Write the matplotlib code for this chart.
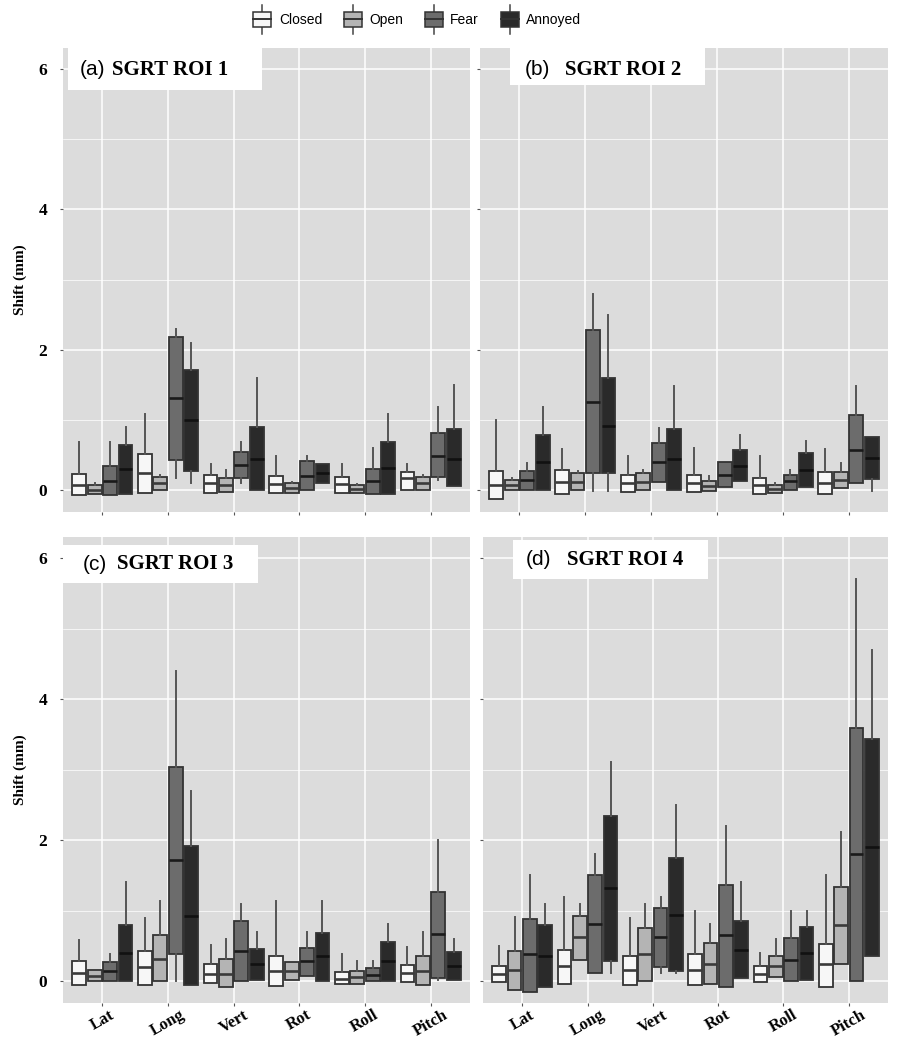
import numpy as np
import matplotlib
matplotlib.use('Agg')
import matplotlib.pyplot as plt
from matplotlib.patches import Rectangle, Patch
from matplotlib.lines import Line2D
from matplotlib.legend_handler import HandlerBase

motions = ['Lat', 'Long', 'Vert', 'Rot', 'Roll', 'Pitch']
groups = ['Closed', 'Open', 'Fear', 'Annoyed']
fills = ['#f7f7f7', '#b4b4b4', '#6c6c6c', '#2a2a2a']
med_colors = ['#3a3a3a', '#3a3a3a', '#1a1a1a', '#111111']
panel_tags = ['(a)', '(b)', '(c)', '(d)']
panel_names = ['SGRT ROI 1', 'SGRT ROI 2', 'SGRT ROI 3', 'SGRT ROI 4']

# rows: Closed, Open, Fear, Annoyed ; columns: Lat, Long, Vert, Rot, Roll, Pitch
# ROI 1
roi1_q1 = [[-0.07, -0.04, -0.04, -0.04, -0.04, 0.01],
           [-0.05, 0.01, -0.02, -0.04, -0.04, 0.01],
           [-0.07, 0.43, 0.17, 0.00, -0.06, 0.19],
           [-0.05, 0.27, 0.00, 0.10, -0.06, 0.06]]
roi1_med = [[0.08, 0.25, 0.10, 0.09, 0.09, 0.17],
            [0.01, 0.10, 0.07, 0.03, 0.02, 0.10],
            [0.13, 1.31, 0.36, 0.20, 0.13, 0.49],
            [0.30, 1.00, 0.45, 0.25, 0.32, 0.45]]
roi1_q3 = [[0.23, 0.52, 0.21, 0.20, 0.19, 0.26],
           [0.07, 0.19, 0.17, 0.10, 0.07, 0.19],
           [0.34, 2.18, 0.54, 0.41, 0.30, 0.82],
           [0.65, 1.72, 0.90, 0.37, 0.69, 0.87]]
roi1_lo = [[-0.07, -0.04, -0.04, -0.04, -0.04, 0.00],
           [-0.05, 0.00, -0.02, -0.04, -0.04, 0.00],
           [-0.07, 0.18, 0.10, 0.00, -0.06, 0.14],
           [-0.05, 0.10, 0.00, 0.10, -0.06, 0.06]]
roi1_hi = [[0.69, 1.09, 0.38, 0.49, 0.38, 0.38],
           [0.10, 0.22, 0.29, 0.12, 0.09, 0.21],
           [0.69, 2.30, 0.69, 0.49, 0.60, 1.19],
           [0.90, 2.10, 1.60, 0.37, 1.09, 1.50]]

# ROI 2
roi2_q1 = [[-0.12, -0.06, -0.03, -0.03, -0.05, -0.05],
           [0.00, 0.00, 0.01, -0.01, -0.04, 0.03],
           [0.00, 0.25, 0.12, 0.05, 0.01, 0.10],
           [0.01, 0.24, 0.00, 0.13, 0.05, 0.16]]
roi2_med = [[0.07, 0.12, 0.11, 0.10, 0.07, 0.11],
            [0.07, 0.12, 0.12, 0.06, 0.02, 0.15],
            [0.14, 1.26, 0.40, 0.22, 0.13, 0.58],
            [0.40, 0.92, 0.44, 0.35, 0.29, 0.46]]
roi2_q3 = [[0.27, 0.29, 0.22, 0.22, 0.18, 0.26],
           [0.15, 0.25, 0.24, 0.13, 0.08, 0.26],
           [0.27, 2.28, 0.67, 0.40, 0.22, 1.07],
           [0.79, 1.60, 0.87, 0.58, 0.53, 0.76]]
roi2_lo = [[-0.12, -0.06, -0.03, -0.03, -0.05, -0.05],
           [0.00, 0.00, 0.01, -0.01, -0.04, 0.03],
           [0.00, -0.01, 0.12, 0.05, 0.01, 0.10],
           [0.01, -0.01, 0.00, 0.13, 0.05, -0.01]]
roi2_hi = [[1.00, 0.59, 0.49, 0.60, 0.49, 0.59],
           [0.18, 0.27, 0.29, 0.20, 0.10, 0.39],
           [0.39, 2.80, 0.89, 0.40, 0.29, 1.49],
           [1.19, 2.50, 1.49, 0.79, 0.70, 0.76]]

# ROI 3
roi3_q1 = [[-0.06, -0.05, -0.02, -0.07, -0.04, -0.01],
           [0.00, 0.00, -0.08, 0.02, -0.04, -0.06],
           [0.00, 0.39, 0.00, 0.07, 0.00, 0.04],
           [0.00, -0.05, 0.02, 0.00, 0.00, 0.01]]
roi3_med = [[0.12, 0.20, 0.10, 0.14, 0.03, 0.11],
            [0.07, 0.32, 0.10, 0.14, 0.06, 0.15],
            [0.15, 1.72, 0.43, 0.28, 0.09, 0.67],
            [0.40, 0.93, 0.24, 0.35, 0.28, 0.21]]
roi3_q3 = [[0.28, 0.43, 0.24, 0.35, 0.13, 0.23],
           [0.16, 0.65, 0.32, 0.27, 0.15, 0.36],
           [0.27, 3.04, 0.86, 0.47, 0.19, 1.26],
           [0.79, 1.91, 0.46, 0.68, 0.56, 0.41]]
roi3_lo = [[-0.06, -0.05, -0.02, -0.07, -0.04, -0.01],
           [0.00, 0.00, -0.08, 0.02, -0.04, -0.06],
           [0.00, 0.00, 0.00, 0.07, 0.00, 0.02],
           [0.00, -0.05, 0.02, 0.00, 0.00, 0.01]]
roi3_hi = [[0.59, 0.90, 0.51, 1.14, 0.39, 0.49],
           [0.16, 1.14, 0.60, 0.27, 0.29, 0.70],
           [0.39, 4.40, 1.09, 0.70, 0.29, 2.00],
           [1.40, 2.70, 0.70, 1.14, 0.81, 0.60]]

# ROI 4
roi4_q1 = [[-0.01, -0.04, -0.05, -0.05, -0.01, -0.08],
           [-0.12, 0.30, 0.00, -0.04, 0.06, 0.25],
           [-0.16, 0.11, 0.20, -0.08, 0.00, 0.00],
           [-0.08, 0.28, 0.14, 0.05, 0.02, 0.35]]
roi4_med = [[0.10, 0.22, 0.16, 0.16, 0.10, 0.24],
            [0.16, 0.62, 0.38, 0.25, 0.21, 0.80],
            [0.38, 0.81, 0.62, 0.65, 0.30, 1.80],
            [0.36, 1.32, 0.94, 0.44, 0.40, 1.90]]
roi4_q3 = [[0.22, 0.44, 0.36, 0.39, 0.21, 0.52],
           [0.43, 0.92, 0.75, 0.54, 0.36, 1.34],
           [0.88, 1.50, 1.04, 1.37, 0.61, 3.59],
           [0.79, 2.34, 1.75, 0.85, 0.77, 3.43]]
roi4_lo = [[-0.01, -0.04, -0.05, -0.05, -0.01, -0.08],
           [-0.12, 0.30, 0.00, -0.04, 0.06, 0.25],
           [-0.16, 0.11, 0.11, -0.08, 0.00, 0.00],
           [-0.08, 0.11, 0.11, 0.05, 0.02, 0.35]]
roi4_hi = [[0.50, 1.20, 0.90, 1.00, 0.40, 1.50],
           [0.91, 1.10, 1.10, 0.81, 0.60, 2.11],
           [1.51, 1.81, 1.19, 2.20, 1.00, 5.71],
           [1.10, 3.11, 2.50, 1.40, 1.00, 4.70]]

panels = [
    (roi1_q1, roi1_med, roi1_q3, roi1_lo, roi1_hi),
    (roi2_q1, roi2_med, roi2_q3, roi2_lo, roi2_hi),
    (roi3_q1, roi3_med, roi3_q3, roi3_lo, roi3_hi),
    (roi4_q1, roi4_med, roi4_q3, roi4_lo, roi4_hi),
]

SERIF = 'Liberation Serif'
SANS = 'Liberation Sans'
offsets = [-0.3525, -0.1175, 0.1175, 0.3525]
box_w = 0.21


def draw_panel(ax, q1, med, q3, lo, hi):
    x = np.arange(1, len(motions) + 1)
    for g in range(len(groups)):
        stats = []
        for m in range(len(motions)):
            stats.append({'q1': q1[g][m], 'med': med[g][m], 'q3': q3[g][m],
                          'whislo': lo[g][m], 'whishi': hi[g][m], 'fliers': []})
        ax.bxp(stats, positions=x + offsets[g], widths=box_w, patch_artist=True,
               showfliers=False, showcaps=False, manage_ticks=False,
               boxprops=dict(facecolor=fills[g], edgecolor='#333333', linewidth=1.3),
               medianprops=dict(color=med_colors[g], linewidth=1.9),
               whiskerprops=dict(color='#555555', linewidth=1.4))
    ax.set_facecolor('#dcdcdc')
    ax.set_axisbelow(True)
    ax.set_xlim(0.4, 6.6)
    ax.set_ylim(-0.31, 6.3)
    ax.set_xticks(x)
    ax.set_yticks([0, 2, 4, 6])
    ax.set_yticks([1, 3, 5], minor=True)
    ax.grid(which='major', color='white', linewidth=1.1)
    ax.grid(which='minor', axis='y', color='white', linewidth=0.5)
    ax.tick_params(which='minor', length=0)
    ax.tick_params(which='major', length=2.5, width=0.8, color='#555555', pad=9)
    for s in ax.spines.values():
        s.set_visible(False)


class BoxHandler(HandlerBase):
    def create_artists(self, legend, orig_handle, xdescent, ydescent,
                       width, height, fontsize, trans):
        cx = width / 2 - xdescent
        cy = height / 2 - ydescent
        bw, bh = 13, 11
        rect = Rectangle((cx - bw / 2, cy - bh / 2), bw, bh,
                         facecolor=orig_handle.get_facecolor(),
                         edgecolor='#333333', linewidth=1.1, transform=trans)
        mid = Line2D([cx - bw / 2, cx + bw / 2], [cy, cy], color='#333333',
                     linewidth=1.4, transform=trans)
        top = Line2D([cx, cx], [cy + bh / 2, cy + bh / 2 + 5], color='#444444',
                     linewidth=1.1, transform=trans)
        bot = Line2D([cx, cx], [cy - bh / 2, cy - bh / 2 - 5], color='#444444',
                     linewidth=1.1, transform=trans)
        return [top, bot, rect, mid]


fig = plt.figure(figsize=(8.98, 10.38), dpi=100)
W, H = 898.0, 1038.0
# panel pixel boxes: left, top, right, bottom
boxes = [(63, 48, 470, 512), (480, 48, 888, 512),
         (63, 537, 470, 1003), (483, 537, 888, 1003)]
# title rectangles in axes coords: x0, x1, y0, y1 ; text positions
title_rects = [(0.012, 0.489, 0.909, 1.0), (0.074, 0.551, 0.920, 1.0),
               (0.0, 0.479, 0.902, 0.983), (0.074, 0.556, 0.910, 0.994)]
tag_x = [0.042, 0.11, 0.049, 0.106]
name_x = [0.12, 0.208, 0.133, 0.207]
text_y = [0.953, 0.953, 0.942, 0.951]

for i, (l, t, r, b) in enumerate(boxes):
    ax = fig.add_axes([l / W, 1 - b / H, (r - l) / W, (b - t) / H])
    draw_panel(ax, *panels[i])
    x0, x1, y0, y1 = title_rects[i]
    ax.add_patch(Rectangle((x0, y0), x1 - x0, y1 - y0, transform=ax.transAxes,
                           facecolor='white', edgecolor='none', zorder=5))
    ax.text(tag_x[i], text_y[i], panel_tags[i], transform=ax.transAxes,
            fontsize=15, family=SANS, va='center', ha='left', zorder=6)
    ax.text(name_x[i], text_y[i], panel_names[i], transform=ax.transAxes,
            fontsize=15, family=SERIF, fontweight='bold', va='center', ha='left', zorder=6)
    if i % 2 == 0:
        ax.set_yticklabels(['0', '2', '4', '6'], family=SERIF, fontweight='bold', fontsize=12.5)
        ax.set_ylabel('Shift (mm)', family=SERIF, fontweight='bold', fontsize=11)
        ax.yaxis.set_label_coords(-0.088, 0.5)
    else:
        ax.set_yticklabels([])
    if i >= 2:
        ax.set_xticklabels(motions, family=SERIF, fontweight='bold', fontsize=12,
                           rotation=30, ha='center', va='top')
        ax.tick_params(axis='x', pad=0.5)
    else:
        ax.set_xticklabels([])

handles = [Patch(facecolor=c) for c in fills]
fig.legend(handles, groups, loc='center', bbox_to_anchor=(0.465, 1 - 20 / H),
           ncol=4, frameon=False, handler_map={Patch: BoxHandler()},
           prop={'family': SANS, 'size': 10}, handlelength=1.2, handletextpad=0.6,
           columnspacing=1.6)

fig.savefig('out.png', dpi=100)
